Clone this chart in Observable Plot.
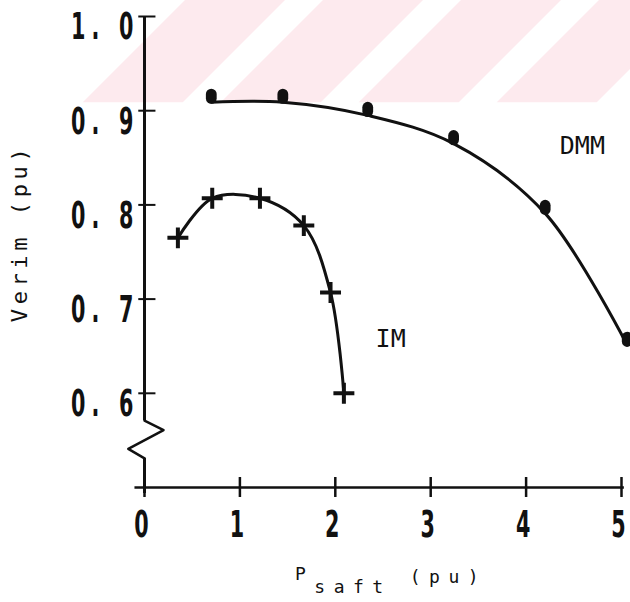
<!DOCTYPE html>
<html>
<head>
<meta charset="utf-8">
<script src="https://cdn.jsdelivr.net/npm/d3@7"></script>
<script src="https://cdn.jsdelivr.net/npm/@observablehq/plot@0.6"></script>
<style>
  html, body { margin: 0; padding: 0; background: #fff; }
  #chart { width: 630px; height: 602px; }
</style>
</head>
<body>
<div id="chart"></div>
<script>
// ---- data ----
const xTicks = [0, 1, 2, 3, 4, 5];
const xTickLabels = ["0", "1", "2", "3", "4", "5"];
const yTicks = [0.6, 0.7, 0.8, 0.9, 1.0];
const yTickLabels = ["0. 6", "0. 7", "0. 8", "0. 9", "1. 0"];

// DMM series (measured points, filled blobs)
const dmmP = [0.70, 1.45, 2.34, 3.24, 4.20, 5.06];
const dmmV = [0.909, 0.909, 0.895, 0.865, 0.791, 0.651];

// IM series (measured points, crosses)
const imP = [0.35, 0.71, 1.21, 1.67, 1.95, 2.09];
const imV = [0.765, 0.807, 0.807, 0.778, 0.707, 0.600];

// in-plot series labels
const labelText = ["DMM", "IM"];
const labelX = [4.59, 2.58];
const labelY = [0.863, 0.658];

// axis break (zig-zag) on the value axis
const breakX = [0, 0.2, -0.17, 0];
const breakY = [0.571, 0.561, 0.541, 0.531];

// ---- tables ----
const dmm = dmmP.map((p, i) => ({p, v: dmmV[i]}));
const im = imP.map((p, i) => ({p, v: imV[i]}));
const labels = labelText.map((t, i) => ({t, x: labelX[i], y: labelY[i]}));
const brk = breakX.map((x, i) => ({x, y: breakY[i]}));
const yT = yTicks.map((v, i) => ({v, t: yTickLabels[i]}));
const xT = xTicks.map((v, i) => ({v, t: xTickLabels[i]}));

const ink = "#111";
const tickFont = "'DejaVu Sans', sans-serif";
const monoFont = "'DejaVu Sans Mono', 'Liberation Mono', monospace";
const squeeze = 0.56;

// blob-shaped marker (upright pill)
const blob = {
  draw(ctx, size) {
    const r = Math.sqrt(size / Math.PI);
    const h = r * 0.8;
    ctx.moveTo(r, -h / 2);
    ctx.arc(0, -h / 2, r, 0, Math.PI, true);
    ctx.lineTo(-r, h / 2);
    ctx.arc(0, h / 2, r, Math.PI, 0, true);
    ctx.closePath();
  }
};

const chart = Plot.plot({
  width: 630,
  height: 602,
  marginLeft: 144,
  marginRight: 9,
  marginTop: 16,
  marginBottom: 115,
  x: {domain: [0, 5], axis: null},
  y: {domain: [0.5, 1.0], axis: null},
  style: {background: "transparent", overflow: "visible"},
  marks: [
    // value axis with break
    Plot.ruleX([0], {y1: 0.571, y2: 1.0, stroke: ink, strokeWidth: 3}),
    Plot.line(brk, {x: "x", y: "y", stroke: ink, strokeWidth: 2.5, curve: "linear"}),
    Plot.ruleX([0], {y1: 0.4936, y2: 0.531, stroke: ink, strokeWidth: 3}),
    Plot.ruleY(yT, {y: "v", x1: -0.06, x2: 0.12, stroke: ink, strokeWidth: 2}),
    Plot.text(yT, {x: 0, y: "v", text: "t", textAnchor: "end", lineAnchor: "middle",
      dx: -5, dy: 11, fontSize: 37, fontWeight: "bold", fontFamily: tickFont, fill: ink}),
    // horizontal axis
    Plot.ruleY([0.5], {x1: -0.1, x2: 5.03, stroke: ink, strokeWidth: 2.3}),
    Plot.ruleX(xT, {x: "v", y1: 0.4894, y2: 0.5106, stroke: ink, strokeWidth: 2.5}),
    Plot.text(xT, {x: "v", y: 0.5, text: "t", textAnchor: "middle", lineAnchor: "middle",
      dx: -3, dy: 38, fontSize: 37, fontWeight: "bold", fontFamily: tickFont, fill: ink}),
    // DMM
    Plot.line(dmm, {x: "p", y: "v", stroke: ink, strokeWidth: 3, curve: "catmull-rom"}),
    Plot.dot(dmm, {x: "p", y: "v", symbol: blob, r: 5.4, fill: ink, stroke: "none", dy: -6}),
    // IM
    Plot.line(im, {x: "p", y: "v", stroke: ink, strokeWidth: 3, curve: "catmull-rom"}),
    Plot.dot(im, {x: "p", y: "v", symbol: "plus", r: 6.8, stroke: ink, strokeWidth: 4}),
    // series labels
    Plot.text(labels, {x: "x", y: "y", text: "t", textAnchor: "middle", lineAnchor: "middle",
      fontSize: 25, fontFamily: monoFont, fill: ink})
  ]
});

const svg = d3.select(chart);

// condense the bold tick digits horizontally (about their own anchor)
const boldTexts = svg.selectAll("text").filter(function () {
  return this.closest('[font-weight="bold"]') !== null;
});
boldTexts.each(function () {
  const el = this;
  const ax = parseFloat(el.getAttribute("x")) || 0;
  const t = el.getAttribute("transform") || "";
  el.setAttribute("transform", `${t} translate(${ax},0) scale(${squeeze},1) translate(${-ax},0)`);
  if (el.textContent.length > 1) el.setAttribute("letter-spacing", 11);
});

// faint diagonal pink stripes at the top (scan background)
const defs = svg.insert("defs", ":first-child");
defs.append("clipPath").attr("id", "topclip")
  .append("rect").attr("x", 0).attr("y", 0).attr("width", 630).attr("height", 102.5);
const sg = svg.insert("g", "defs + *").attr("clip-path", "url(#topclip)");
const H = 102.5;
for (let a = 185; a < 760; a += 138) {
  const b = a + 100;
  sg.append("polygon")
    .attr("points", `${a},0 ${b},0 ${b - H},${H} ${a - H},${H}`)
    .attr("fill", "#fdeaee");
}

// x-axis title: P_saft (pu)
const xt = svg.append("text")
  .attr("font-family", monoFont)
  .attr("font-size", 18)
  .attr("letter-spacing", 8.5)
  .attr("text-anchor", "start")
  .attr("fill", ink)
  .attr("x", 295).attr("y", 580);
xt.append("tspan").text("P");
xt.append("tspan").attr("dy", 13).text("saft");
xt.append("tspan").attr("dy", -10).attr("dx", 18).text("(pu)");

// y-axis title
svg.append("text")
  .attr("font-family", monoFont)
  .attr("font-size", 22)
  .attr("letter-spacing", 4.6)
  .attr("fill", ink)
  .attr("text-anchor", "middle")
  .attr("transform", "translate(27,233) rotate(-90)")
  .text("Verim (pu)");

document.getElementById("chart").appendChild(chart);
</script>
</body>
</html>
